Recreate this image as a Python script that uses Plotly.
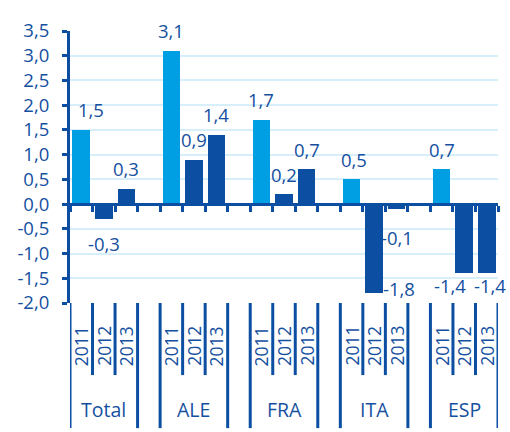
import plotly.graph_objects as go

# Growth by region and year
groups = ["Total", "ALE", "FRA", "ITA", "ESP"]
years = ["2011", "2012", "2013"]
values = [
    [1.5, -0.3, 0.3],   # Total
    [3.1, 0.9, 1.4],    # ALE
    [1.7, 0.2, 0.7],    # FRA
    [0.5, -1.8, -0.1],  # ITA
    [0.7, -1.4, -1.4],  # ESP
]
y_tickvals = [-2.0, -1.5, -1.0, -0.5, 0.0, 0.5, 1.0, 1.5, 2.0, 2.5, 3.0, 3.5]
y_ticktext = ["-2,0", "-1,5", "-1,0", "-0,5", "0,0", "0,5", "1,0", "1,5",
              "2,0", "2,5", "3,0", "3,5"]

# Styling
DARK = "#0B4EA2"
LIGHT = "#009FE3"
GRID = "#D7EFFA"
TEXT = "#1550A0"
FONT = "Open Sans"
year_colors = [LIGHT, DARK, DARK]

# Pixel nudges for the value labels (dx, dy), one per bar
label_nudges = [
    [(10, 20), (0, -25), (0, 21)],
    [(0, 20), (0, 20), (0, 20)],
    [(0, 21), (0, 20), (0, 20)],
    [(2, 20), (25, 5), (0, -28)],
    [(0, 20), (-14, -12), (3, -12)],
]

SLOTS = len(groups) * 4 - 1  # three bars + one spacer per group, no trailing spacer


def fmt(v):
    return f"{v:.1f}".replace(".", ",")


fig = go.Figure()

for j, yr in enumerate(years):
    xs = [g * 4 + j for g in range(len(groups))]
    ys = [values[g][j] for g in range(len(groups))]
    fig.add_trace(go.Bar(
        x=xs, y=ys, width=0.78, name=yr,
        marker=dict(color=year_colors[j], line=dict(width=0)),
        showlegend=False, hoverinfo="skip",
    ))

annotations = []
for g in range(len(groups)):
    for j in range(len(years)):
        v = values[g][j]
        dx, dy = label_nudges[g][j]
        annotations.append(dict(
            x=g * 4 + j, y=v, xref="x", yref="y", text=fmt(v),
            showarrow=False, xshift=dx, yshift=dy,
            xanchor="center", yanchor="middle",
            font=dict(family=FONT, size=18.5, color=TEXT),
        ))
        # rotated year labels under the axis
        annotations.append(dict(
            x=g * 4 + j, y=-0.158, xref="x", yref="paper", text=years[j],
            showarrow=False, textangle=-90,
            xanchor="center", yanchor="middle",
            font=dict(family=FONT, size=17.5, color=TEXT),
        ))
    annotations.append(dict(
        x=g * 4 + 1, y=-0.393, xref="x", yref="paper", text=groups[g],
        showarrow=False, xanchor="center", yanchor="middle",
        font=dict(family=FONT, size=19.5, color=TEXT),
    ))

# Separator lines below the plot: long ones around each group, short ones between years
shapes = []
for g in range(len(groups)):
    left = g * 4 - 0.5
    right = g * 4 + 2.5
    for xb in (left, right):
        shapes.append(dict(type="line", xref="x", yref="paper",
                           x0=xb, x1=xb, y0=0, y1=-0.46,
                           line=dict(color=DARK, width=3)))
    for xb in (g * 4 + 0.5, g * 4 + 1.5):
        shapes.append(dict(type="line", xref="x", yref="paper",
                           x0=xb, x1=xb, y0=0, y1=-0.265,
                           line=dict(color=DARK, width=3)))

ymin, ymax = -2.0, 3.5

fig.update_layout(
    width=510, height=432,
    margin=dict(l=70, r=12, t=31, b=129),
    paper_bgcolor="white", plot_bgcolor="white",
    bargap=0, barmode="overlay",
    annotations=annotations, shapes=shapes,
    font=dict(family=FONT, color=TEXT, size=18),
    xaxis=dict(
        range=[-0.5, SLOTS - 0.5], showgrid=False, zeroline=False,
        anchor="free", position=(0 - ymin) / (ymax - ymin),
        showline=True, linecolor=DARK, linewidth=3,
        ticks="outside", ticklen=6, tickwidth=2.5, tickcolor=DARK,
        tickvals=[k - 0.5 for k in range(SLOTS + 1)],
        showticklabels=False, fixedrange=True,
    ),
    yaxis=dict(
        range=[ymin, ymax], tickvals=y_tickvals, ticktext=y_ticktext,
        showgrid=True, gridcolor=GRID, gridwidth=2, zeroline=False,
        showline=True, linecolor=DARK, linewidth=3,
        ticks="outside", ticklen=5, tickwidth=3, tickcolor=DARK,
        ticklabelstandoff=9,
        tickfont=dict(family=FONT, size=18.5, color=TEXT),
        fixedrange=True,
    ),
)

fig.write_html("out.html")
